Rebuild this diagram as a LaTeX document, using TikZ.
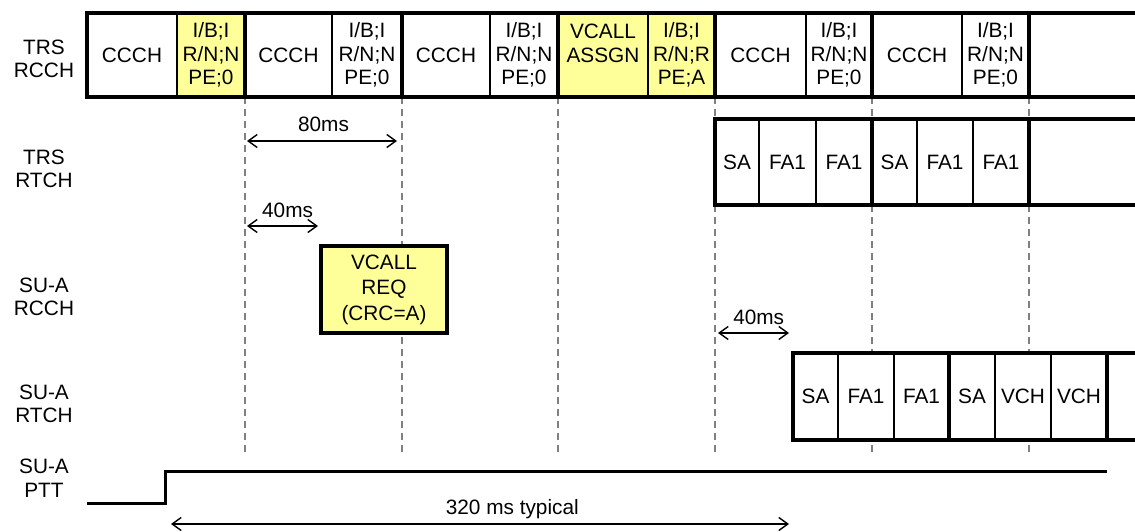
\documentclass[tikz,border=0pt]{standalone}
\usepackage{fontspec}
\setmainfont{Liberation Sans}
\usetikzlibrary{positioning,backgrounds,arrows.meta}
\definecolor{slotyellow}{RGB}{255,255,153}
\definecolor{guidegray}{RGB}{128,128,128}

\begin{document}
\begin{tikzpicture}[x=1pt, y=-1pt,
    font=\fontsize{20.8}{23.5}\selectfont,
    slot/.style={draw, line width=1.2pt, fill=white, inner sep=0pt, outer sep=0pt,
                 align=center},
    rcch/.style={slot, minimum height=84pt},
    rtch/.style={slot, minimum height=86pt},
    hot/.style={fill=slotyellow},
    frame/.style={line width=3.5pt},
    rowlabel/.style={align=center, inner sep=0pt, font=\fontsize{20.8}{23.5}\selectfont},
    guide/.style={guidegray, line width=1.4pt, dash pattern=on 7pt off 5pt},
    dim/.style={{Straight Barb[length=9pt,width=13pt]}-{Straight Barb[length=9pt,width=13pt]},
                line width=1.4pt},
    ptt/.style={line width=3pt}
]
\useasboundingbox (0,0) rectangle (1135,532);
\coordinate (rim) at (1140,0);
\coordinate (bot) at (0,454);

% row labels
\node[rowlabel] (l1) at (44,59)  {TRS\\RCCH};
\node[rowlabel] (l2) at (44,169) {TRS\\RTCH};
\node[rowlabel] (l3) at (44,297) {SU-A\\RCCH};
\node[rowlabel] (l4) at (44,404) {SU-A\\RTCH};
\node[rowlabel] (l5) at (44,478) {SU-A\\PTT};

% TRS RCCH
\node[rcch, anchor=north west, minimum width=90pt] (cc1) at (87,13) {CCCH};
\node[rcch, hot, right=0pt of cc1, minimum width=68pt] (ib1) {I/B;I\\R/N;N\\PE;0};
\node[rcch, right=0pt of ib1, minimum width=87pt] (cc2) {CCCH};
\node[rcch, right=0pt of cc2, minimum width=70pt] (ib2) {I/B;I\\R/N;N\\PE;0};
\node[rcch, right=0pt of ib2, minimum width=88pt] (cc3) {CCCH};
\node[rcch, right=0pt of cc3, minimum width=68pt] (ib3) {I/B;I\\R/N;N\\PE;0};
\node[rcch, hot, right=0pt of ib3, minimum width=90pt] (asg) {VCALL\\ASSGN\\\phantom{PE}};
\node[rcch, hot, right=0pt of asg, minimum width=67pt] (ib4) {I/B;I\\R/N;R\\PE;A};
\node[rcch, right=0pt of ib4, minimum width=91pt] (cc5) {CCCH};
\node[rcch, right=0pt of cc5, minimum width=66pt] (ib5) {I/B;I\\R/N;N\\PE;0};
\node[rcch, right=0pt of ib5, minimum width=90pt] (cc6) {CCCH};
\node[rcch, right=0pt of cc6, minimum width=67pt] (ib6) {I/B;I\\R/N;N\\PE;0};

\foreach \a/\b in {cc1/ib1, cc2/ib2, cc3/ib3, asg/ib4, cc5/ib5, cc6/ib6}
  \draw[frame] (\a.north west) rectangle (\b.south east);
\draw[frame] (ib6.north east) -- (ib6.north east -| rim);
\draw[frame] (ib6.south east) -- (ib6.south east -| rim);

% TRS RTCH
\node[rtch, anchor=north west, minimum width=44pt] (ta1) at (715,119) {SA};
\node[rtch, right=0pt of ta1, minimum width=57pt] (tf1) {FA1};
\node[rtch, right=0pt of tf1, minimum width=56pt] (tf2) {FA1};
\node[rtch, right=0pt of tf2, minimum width=45pt] (ta2) {SA};
\node[rtch, right=0pt of ta2, minimum width=56pt] (tf3) {FA1};
\node[rtch, right=0pt of tf3, minimum width=56pt] (tf4) {FA1};

\draw[frame] (ta1.north west) rectangle (tf2.south east);
\draw[frame] (ta2.north west) rectangle (tf4.south east);
\draw[frame] (tf4.north east) -- (tf4.north east -| rim);
\draw[frame] (tf4.south east) -- (tf4.south east -| rim);

% SU-A RCCH
\node[slot, hot, line width=3.5pt, minimum width=126pt, minimum height=87pt,
      font=\fontsize{20.8}{25.5}\selectfont] (req) at (384,289.5) {VCALL\\REQ\\(CRC=A)};

% SU-A RTCH
\node[rtch, anchor=north west, minimum width=45pt, minimum height=87pt] (ua1) at (793,353) {SA};
\node[rtch, right=0pt of ua1, minimum width=56pt, minimum height=87pt] (uf1) {FA1};
\node[rtch, right=0pt of uf1, minimum width=55pt, minimum height=87pt] (uf2) {FA1};
\node[rtch, right=0pt of uf2, minimum width=46pt, minimum height=87pt] (ua2) {SA};
\node[rtch, right=0pt of ua2, minimum width=56pt, minimum height=87pt] (uv1) {VCH};
\node[rtch, right=0pt of uv1, minimum width=56pt, minimum height=87pt] (uv2) {VCH};

\draw[frame] (ua1.north west) rectangle (uf2.south east);
\draw[frame] (ua2.north west) rectangle (uv2.south east);
\draw[frame] (uv2.north east) -- (uv2.north east -| rim);
\draw[frame] (uv2.south east) -- (uv2.south east -| rim);

% timing guides
\begin{scope}[on background layer]
\foreach \n in {ib1,ib2,ib3,ib4,ib5,ib6}
  \draw[guide] (\n.south east) -- (\n.south east |- bot);
\end{scope}

% durations
\coordinate (d80) at (0,141);
\coordinate (d40) at (0,226);
\coordinate (e40) at (0,333);
\coordinate (d320) at (0,524);
\draw[dim, shorten <=2pt, shorten >=5pt] (d80 -| ib1.south east) -- (d80 -| ib2.south east)
  node[midway, above=9pt, inner sep=0pt] {80ms};
\draw[dim, shorten <=2pt, shorten >=3pt] (d40 -| ib1.south east) -- (d40 -| req.west)
  node[pos=0.56, above=8pt, inner sep=0pt] {40ms};
\draw[dim, shorten <=3pt, shorten >=4pt] (e40 -| ib4.south east) -- (e40 -| ua1.west)
  node[pos=0.56, above=8pt, inner sep=0pt] {40ms};

% push to talk
\coordinate (plo) at (87,503);
\coordinate (pstep) at (165,503);
\coordinate (phi) at (1107,471);
\draw[ptt] (plo) -- (pstep) |- (phi);
\draw[dim, shorten <=6pt, shorten >=4pt] (d320 -| pstep) -- (d320 -| ua1.west)
  node[pos=0.553, above=4pt, inner sep=0pt] {320 ms typical};
\end{tikzpicture}
\end{document}
